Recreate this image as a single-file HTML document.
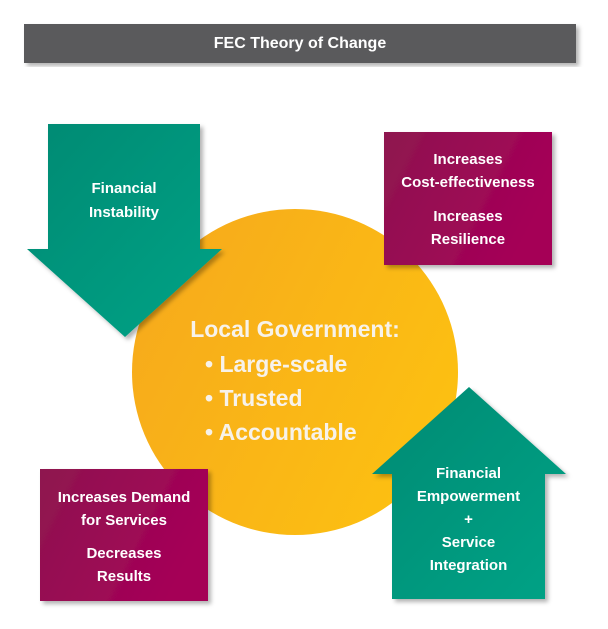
<!DOCTYPE html>
<html><head><style>
body{margin:0;width:608px;height:629px;background:#fff;position:relative;overflow:hidden;font-family:"Liberation Sans",sans-serif;}
.t{position:absolute;color:#fff;font-weight:bold;text-align:center;}
</style></head><body>
<svg width="608" height="629" style="position:absolute;left:0;top:0">
<defs>
<linearGradient id="g" x1="0" y1="0" x2="1" y2="1"><stop offset="0" stop-color="#008a73"/><stop offset="1" stop-color="#00a386"/></linearGradient>
<linearGradient id="p" x1="0" y1="0" x2="1" y2="0.4"><stop offset="0" stop-color="#8e164f"/><stop offset="1" stop-color="#a50057"/></linearGradient>
<linearGradient id="y" x1="0" y1="0" x2="1" y2="0.5"><stop offset="0" stop-color="#f6a81d"/><stop offset="1" stop-color="#fcbf12"/></linearGradient>
<filter id="s"><feDropShadow dx="3" dy="3" stdDeviation="2" flood-color="#000" flood-opacity="0.3"/></filter>
</defs>
<rect x="24" y="24" width="552" height="39" fill="#5a5a5c" filter="url(#s)"/>
<circle cx="295" cy="372" r="163" fill="url(#y)"/>
<polygon points="48,124 200,124 200,249 222,249 125,337 27,249 48,249" fill="url(#g)" filter="url(#s)"/>
<rect x="384" y="132" width="168" height="133" fill="url(#p)" filter="url(#s)"/>
<rect x="40" y="469" width="168" height="132" fill="url(#p)" filter="url(#s)"/>
<polygon points="469,387 566,474 545,474 545,599 392,599 392,474 372,474" fill="url(#g)" filter="url(#s)"/>
</svg>
<div class="t" style="left:24px;top:35px;width:552px;font-size:16px;">FEC Theory of Change</div>
<div class="t" style="left:48px;top:177px;width:152px;font-size:15px;line-height:24px;">Financial<br>Instability</div>
<div class="t" style="left:384px;top:148px;width:168px;font-size:15px;line-height:23px;">Increases<br>Cost-effectiveness</div>
<div class="t" style="left:384px;top:205px;width:168px;font-size:15px;line-height:23px;">Increases<br>Resilience</div>
<div class="t" style="left:40px;top:486px;width:168px;font-size:15px;line-height:23px;">Increases Demand<br>for Services</div>
<div class="t" style="left:40px;top:542px;width:168px;font-size:15px;line-height:23px;">Decreases<br>Results</div>
<div class="t" style="left:392px;top:462px;width:153px;font-size:15px;line-height:23px;">Financial<br>Empowerment<br>+<br>Service<br>Integration</div>
<div class="t" style="left:130px;top:316px;width:330px;font-size:23px;color:#f7f2ea;">Local Government:</div>
<div class="t" style="left:205px;top:347px;text-align:left;font-size:23px;line-height:34px;color:#f7f2ea;">• Large-scale<br>• Trusted<br>• Accountable</div>
</body></html>
